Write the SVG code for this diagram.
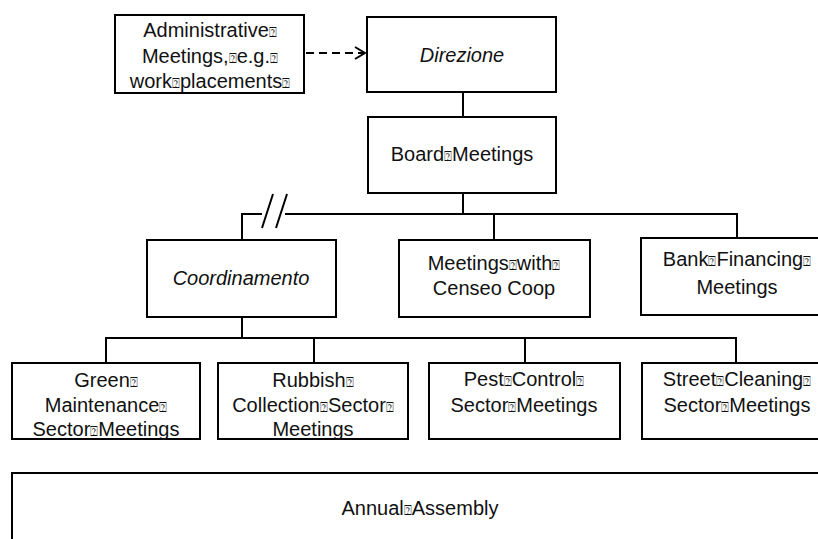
<svg xmlns="http://www.w3.org/2000/svg" width="818" height="539" viewBox="0 0 818 539">
<style>
.box{fill:#fff;stroke:#000;stroke-width:2}
.t{font-family:"Liberation Sans",Arial,sans-serif;font-size:20px;fill:#111;text-anchor:middle}
.i{font-style:italic}
.q{font-size:13px}
.c{fill:none;stroke:#000;stroke-width:2}
</style>
<defs>
<marker id="open" viewBox="0 0 12 14" refX="11" refY="7" markerWidth="12" markerHeight="14" markerUnits="userSpaceOnUse" orient="auto">
<path d="M1,1 L11,7 L1,13" fill="none" stroke="#000" stroke-width="2"/>
</marker>
</defs>
<rect width="818" height="539" fill="#fff"/>
<g id="connectors">
<path class="c" d="M306,53 H365" stroke-dasharray="8 5" marker-end="url(#open)"/>
<path class="c" d="M463,92 V117"/>
<path class="c" d="M463,193 V214"/>
<path class="c" d="M242,241 V214 H262 M285,214 H737 V238"/>
<path class="c" d="M262,228 L273,194 M276,228 L287,194"/>
<path class="c" d="M494,214 V240"/>
<path class="c" d="M242,317 V338"/>
<path class="c" d="M106,363 V338 H736 V363"/>
<path class="c" d="M314,338 V363"/>
<path class="c" d="M525,338 V363"/>
</g>
<g id="admin">
<rect class="box" x="115" y="15" width="189" height="78"/>
<text class="t" x="210" y="37">Administrative<tspan class="q">⍰</tspan></text>
<text class="t" x="210" y="63">Meetings,<tspan class="q">⍰</tspan>e.g.<tspan class="q">⍰</tspan></text>
<text class="t" x="210" y="88">work<tspan class="q">⍰</tspan>placements<tspan class="q">⍰</tspan></text>
</g>
<g id="direzione">
<rect class="box" x="367" y="17" width="189" height="75"/>
<text class="t i" x="462" y="62">Direzione</text>
</g>
<g id="board">
<rect class="box" x="368" y="117" width="188" height="76"/>
<text class="t" x="462" y="161">Board<tspan class="q">⍰</tspan>Meetings</text>
</g>
<g id="coordinamento">
<rect class="box" x="147" y="240" width="189" height="77"/>
<text class="t i" x="241" y="285">Coordinamento</text>
</g>
<g id="censeo">
<rect class="box" x="399" y="240" width="191" height="77"/>
<text class="t" x="494" y="270">Meetings<tspan class="q">⍰</tspan>with<tspan class="q">⍰</tspan></text>
<text class="t" x="494" y="295">Censeo Coop</text>
</g>
<g id="bank">
<rect class="box" x="641" y="238" width="192" height="77"/>
<text class="t" x="737" y="266">Bank<tspan class="q">⍰</tspan>Financing<tspan class="q">⍰</tspan></text>
<text class="t" x="737" y="294">Meetings</text>
</g>
<g id="green">
<rect class="box" x="12" y="363" width="188" height="76"/>
<text class="t" x="106" y="387">Green<tspan class="q">⍰</tspan></text>
<text class="t" x="106" y="412">Maintenance<tspan class="q">⍰</tspan></text>
<text class="t" x="106" y="436">Sector<tspan class="q">⍰</tspan>Meetings</text>
</g>
<g id="rubbish">
<rect class="box" x="218" y="363" width="190" height="76"/>
<text class="t" x="313" y="387">Rubbish<tspan class="q">⍰</tspan></text>
<text class="t" x="313" y="412">Collection<tspan class="q">⍰</tspan>Sector<tspan class="q">⍰</tspan></text>
<text class="t" x="313" y="436">Meetings</text>
</g>
<g id="pest">
<rect class="box" x="429" y="363" width="191" height="76"/>
<text class="t" x="524" y="386">Pest<tspan class="q">⍰</tspan>Control<tspan class="q">⍰</tspan></text>
<text class="t" x="524" y="412">Sector<tspan class="q">⍰</tspan>Meetings</text>
</g>
<g id="street">
<rect class="box" x="642" y="363" width="190" height="76"/>
<text class="t" x="737" y="386">Street<tspan class="q">⍰</tspan>Cleaning<tspan class="q">⍰</tspan></text>
<text class="t" x="737" y="412">Sector<tspan class="q">⍰</tspan>Meetings</text>
</g>
<g id="annual">
<rect class="box" x="12" y="473" width="820" height="80"/>
<text class="t" x="420" y="515">Annual<tspan class="q">⍰</tspan>Assembly</text>
</g>
</svg>
